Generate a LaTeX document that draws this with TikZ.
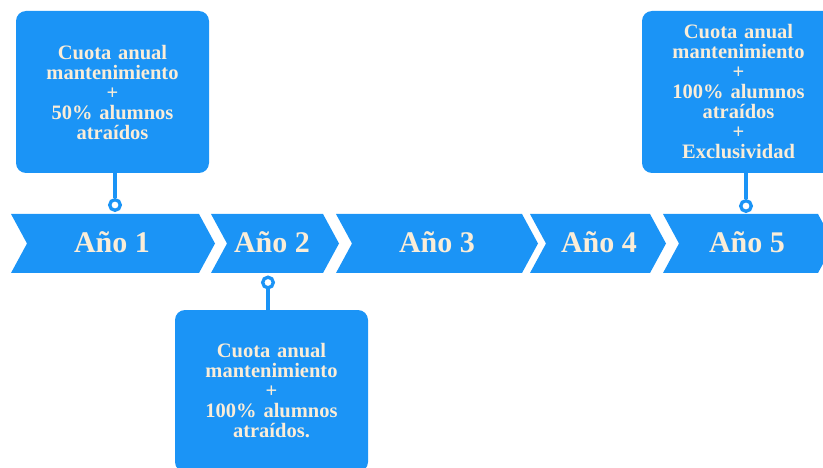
\documentclass[tikz,border=0pt]{standalone}
\usepackage{fontspec}
\setmainfont{Liberation Serif}
\usetikzlibrary{calc,positioning,shapes}
\definecolor{Azul}{RGB}{27,148,246}
\definecolor{Crema}{RGB}{250,237,216}
\tikzstyle{anio} = [anchor=base, text=Crema, font=\bfseries\fontsize{30}{30}\selectfont, inner sep=0pt]
\tikzstyle{caja} = [rectangle, rounded corners=10pt, fill=Azul, text=Crema, minimum width=193pt, minimum height=162pt, text width=185pt, align=center, font=\bfseries\fontsize{20.5}{20}\selectfont]
\tikzstyle{aro} = [circle, draw=Azul, line width=3.3pt, fill=white, minimum size=10.6pt, inner sep=0pt]
\tikzstyle{conector} = [draw=Azul, line width=3.3pt]
% chevron: left edge, right edge (top corners)
\newcommand{\flecha}[2]{\fill[Azul] (#1,214) -- (#2,214) -- (#2+16,243.5) -- (#2,273) -- (#1,273) -- (#1+16,243.5) -- cycle;}

\begin{document}
\begin{tikzpicture}[x=1pt,y=-1pt]
\useasboundingbox (0,0) rectangle (823,468);
\clip (0,0) rectangle (823,468);
\flecha{11}{199}
\flecha{211}{323}
\flecha{336}{522}
\flecha{530}{650}
\flecha{663}{818}
\node[anio] (a1) at (112,253) {Año 1};
\node[anio] (a2) at (272,253) {Año 2};
\node[anio] (a3) at (437,253) {Año 3};
\node[anio] (a4) at (599,253) {Año 4};
\node[anio] (a5) at (747,253) {Año 5};
\node[caja] (b1) at (112.5,92) {Cuota anual\\mantenimiento\\+\\50\% alumnos\\atraídos};
\node[caja] (b2) at (271.5,391) {Cuota anual\\mantenimiento\\+\\100\% alumnos\\atraídos.};
\node[caja] (b5) at (738.5,92) {Cuota anual\\mantenimiento\\+\\100\% alumnos\\atraídos\\+\\Exclusividad};
\node[aro] (c1) at (115,205) {};
\node[aro] (c2) at (268,282.5) {};
\node[aro] (c5) at (746,206) {};
\path[conector] (c1 |- b1.south) -- (c1);
\path[conector] (c2 |- b2.north) -- (c2);
\path[conector] (c5 |- b5.south) -- (c5);
\end{tikzpicture}
\end{document}
